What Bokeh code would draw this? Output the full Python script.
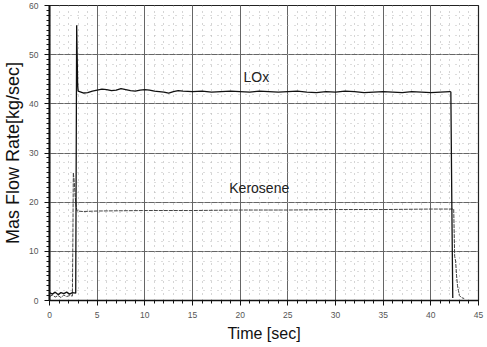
from bokeh.plotting import figure
from bokeh.models import Range1d, FixedTicker, Label, Grid
from bokeh.embed import file_html
from bokeh.resources import INLINE

# LOx mass flow (time [s], flow [kg/s])
lox_t = [0.0, 0.3, 0.6, 0.9, 1.2, 1.5, 1.8, 2.1, 2.4, 2.75, 2.85, 2.9, 2.95, 3.0, 3.3, 3.6, 4.0, 4.5, 5.0,
         5.5, 6.0, 6.5, 7.0, 7.5, 8.0, 8.5, 9.0, 9.5, 10.0, 10.5, 11.0, 11.5, 12.0, 12.5, 13.0,
         13.5, 14.0, 15.0, 16.0, 17.0, 18.0, 19.0, 20.0, 21.0, 22.0, 23.0, 24.0, 25.0, 26.0,
         27.0, 28.0, 29.0, 30.0, 31.0, 32.0, 33.0, 34.0, 35.0, 36.0, 37.0, 38.0, 39.0, 40.0,
         41.0, 42.0, 42.1, 42.2, 42.3]
lox_v = [1.6, 1.3, 1.7, 1.2, 1.6, 1.4, 1.7, 1.3, 1.6, 1.5, 56.0, 50.0, 44.0, 42.6, 42.4, 42.2, 42.3, 42.6, 42.8,
         43.0, 42.9, 42.7, 42.8, 43.1, 42.9, 42.7, 42.6, 42.8, 42.9, 42.8, 42.6, 42.5, 42.4, 42.2, 42.5,
         42.7, 42.6, 42.5, 42.6, 42.4, 42.5, 42.6, 42.5, 42.4, 42.6, 42.5, 42.4, 42.5, 42.6,
         42.4, 42.3, 42.5, 42.4, 42.6, 42.5, 42.3, 42.4, 42.5, 42.4, 42.3, 42.5, 42.4, 42.3,
         42.4, 42.5, 42.4, 20.0, 0.5]

# Kerosene mass flow (time [s], flow [kg/s])
ker_t = [0.0, 0.3, 0.6, 0.9, 1.2, 1.5, 1.8, 2.1, 2.4, 2.45, 2.5, 2.6, 2.7, 2.8, 2.9, 3.5, 5.0, 10.0,
         15.0, 20.0, 25.0, 30.0, 35.0, 40.0, 42.4, 42.5, 42.6, 42.7, 42.8, 42.9, 43.0, 43.2, 43.5]
ker_v = [0.8, 1.1, 0.7, 1.0, 0.6, 1.1, 0.8, 1.0, 0.9, 12.0, 26.0, 24.0, 21.0, 19.0, 18.2, 18.1, 18.2, 18.3,
         18.3, 18.4, 18.4, 18.5, 18.5, 18.6, 18.6, 9.0, 8.0, 5.0, 3.0, 2.0, 1.0, 0.6, 0.4]

x_ticks = [0, 5, 10, 15, 20, 25, 30, 35, 40, 45]
y_ticks = [0, 10, 20, 30, 40, 50, 60]
x_minor = list(range(0, 46))
y_minor = list(range(0, 61))
y_minor_grid = list(range(0, 61, 2))

p = figure(width=487, height=347, output_backend="svg", toolbar_location=None,
           x_range=Range1d(0, 45), y_range=Range1d(0, 60),
           min_border_left=49, min_border_right=9, min_border_top=5, min_border_bottom=47)
p.background_fill_color = "white"
p.border_fill_color = "white"
p.outline_line_color = "#222222"
p.outline_line_width = 1.2

p.xaxis.ticker = FixedTicker(ticks=x_ticks, minor_ticks=x_minor)
p.yaxis.ticker = FixedTicker(ticks=y_ticks, minor_ticks=y_minor)
p.xgrid.grid_line_color = "#666666"
p.ygrid.grid_line_color = "#666666"
p.xgrid.grid_line_width = 1
p.ygrid.grid_line_width = 1
p.xgrid.minor_grid_line_color = "#aaaaaa"
p.xgrid.minor_grid_line_dash = "1 5"
p.ygrid.minor_grid_line_color = None

# extra dotted horizontal grid
p.add_layout(Grid(dimension=1, ticker=FixedTicker(ticks=y_minor_grid),
                  grid_line_color="#bbbbbb", grid_line_dash="1 6", level="underlay"))

for ax in (p.xaxis, p.yaxis):
    ax.axis_line_color = "#111111"
    ax.major_tick_line_color = "#111111"
    ax.minor_tick_line_color = "#111111"
    ax.major_tick_in = 0
    ax.major_tick_out = 5
    ax.minor_tick_in = 0
    ax.minor_tick_out = 3
    ax.major_label_text_font = "Liberation Sans"
    ax.major_label_text_font_size = "8.5px"
    ax.major_label_text_color = "#555555"
    ax.axis_label_text_font = "Liberation Sans"
    ax.axis_label_text_font_style = "normal"
    ax.axis_label_text_color = "#111111"
p.xaxis.axis_label_text_font_size = "16px"
p.yaxis.axis_label_text_font_size = "18px"
p.yaxis.axis_line_width = 2
p.xaxis.axis_line_width = 1.5
p.xaxis.axis_label = "Time [sec]"
p.yaxis.axis_label = "Mas Flow Rate[kg/sec]"
p.xaxis.major_label_standoff = 6
p.yaxis.major_label_standoff = 6
p.xaxis.axis_label_standoff = 4
p.yaxis.axis_label_standoff = 3

p.line(ker_t, ker_v, line_color="#444444", line_width=1.0, line_dash="4 1")
p.line(lox_t, lox_v, line_color="#111111", line_width=1.3)

p.add_layout(Label(x=21.7, y=43.8, text="LOx", text_font="Liberation Sans",
                   text_font_size="14px", text_color="#222222", text_align="center"))
p.add_layout(Label(x=22.0, y=21.3, text="Kerosene", text_font="Liberation Sans",
                   text_font_size="14px", text_color="#222222", text_align="center"))

open("out.html", "w").write(file_html(p, INLINE))
